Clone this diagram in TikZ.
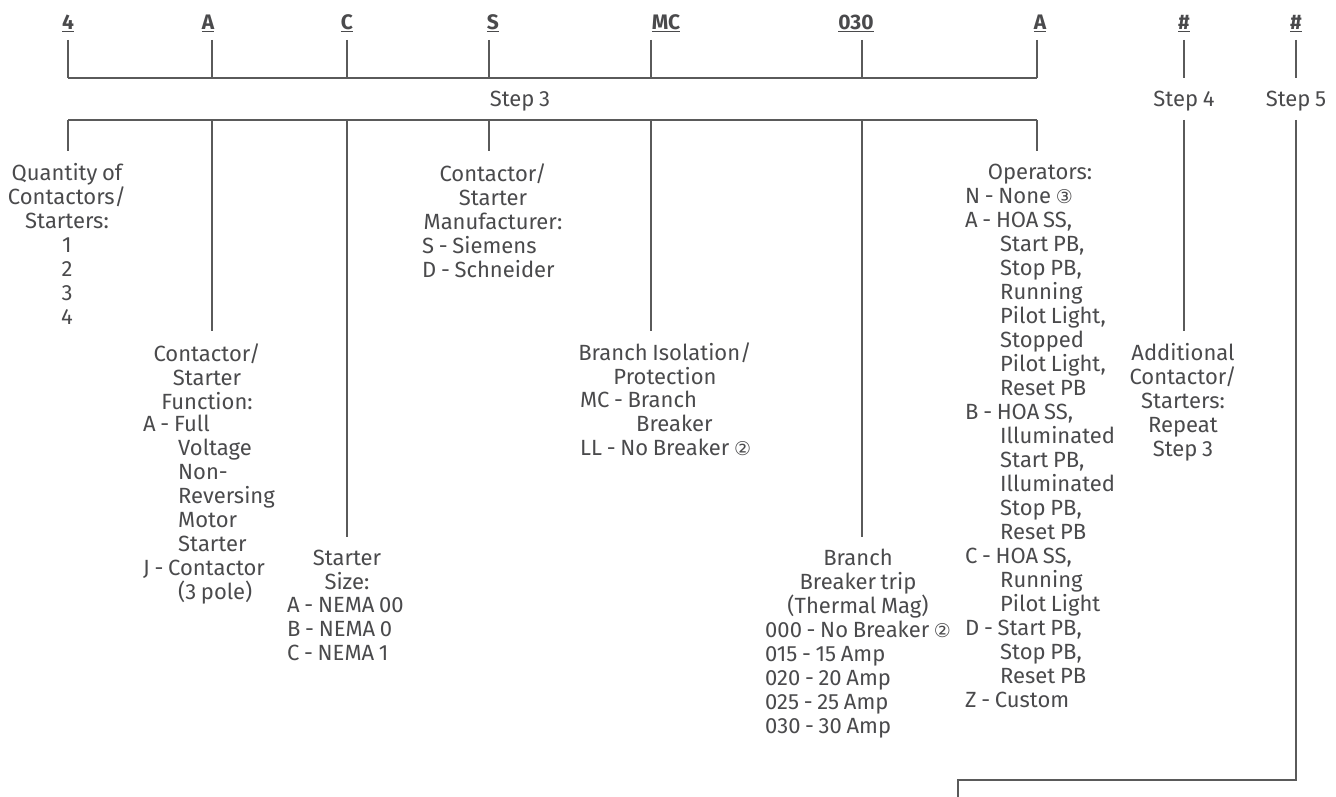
\documentclass[tikz,border=0pt]{standalone}
\usepackage{fontspec}
\setmainfont{Fira Sans}[WordSpace=0.8]
\newfontfamily\symfont{DejaVu Sans}
\newcommand{\cnum}[1]{{\symfont\fontsize{19}{19}\selectfont #1}}
\newcommand{\myind}{\hspace*{35pt}}
\definecolor{txtc}{HTML}{4A4A4C}
\definecolor{linec}{HTML}{5A5A5A}
\tikzset{
  txt/.style={text=txtc, font=\fontsize{22}{24}\selectfont, inner sep=0pt},
  hd/.style={txt, anchor=north, align=center},
  lst/.style={txt, anchor=north west, align=left},
  codelbl/.style={txt, anchor=base, font=\fontsize{21}{24}\selectfont\bfseries},
  steplbl/.style={txt, anchor=base},
  ln/.style={draw=linec, line width=1.3pt}
}
\begin{document}
\begin{tikzpicture}[x=1pt,y=-1pt]
\useasboundingbox (0,0) rectangle (1336,797);
% top code letters
\node[codelbl] (t1) at (68,29.5) {\underline{4}};
\node[codelbl] (t2) at (208,29.5) {\underline{A}};
\node[codelbl] (t3) at (347,29.5) {\underline{C}};
\node[codelbl] (t4) at (493,29.5) {\underline{S}};
\node[codelbl] (t5) at (666,29.5) {\underline{MC}};
\node[codelbl] (t6) at (856,29.5) {\underline{030}};
\node[codelbl] (t7) at (1040,29.5) {\underline{A}};
\node[codelbl] (t8) at (1184,29.5) {\underline{\#}};
\node[codelbl] (t9) at (1296,29.5) {\underline{\#}};
% coordinates
\foreach \n/\x in {1/68,2/212,3/347,4/489,5/651,6/862,7/1037,8/1184,9/1296}{
  \coordinate (u\n) at (\x,40);
  \coordinate (b\n) at (\x,78);
  \coordinate (c\n) at (\x,120);
}
\coordinate (e1) at (68,151);
\coordinate (e2) at (212,331);
\coordinate (e3) at (347,537);
\coordinate (e4) at (489,151);
\coordinate (e5) at (651,331);
\coordinate (e6) at (862,537);
\coordinate (e7) at (1037,151);
\coordinate (e8) at (1184,331);
\coordinate (e9) at (1296,780);
\coordinate (k1) at (958,780);
\coordinate (k2) at (958,797);
% ticks and buses
\foreach \n in {1,...,9}{ \draw[ln] (u\n) -- (b\n); }
\draw[ln] (b1) -- (b7);
\draw[ln] (c1) -- (c7);
\foreach \n in {1,...,8}{ \draw[ln] (c\n) -- (e\n); }
\draw[ln] (c9) -- (e9) -- (k1) -- (k2);
% step labels
\node[steplbl] (s3) at (520,107) {Step 3};
\node[steplbl] (s4) at (1184,107) {Step 4};
\node[steplbl] (s5) at (1296,107) {Step 5};
% descriptions
\node[hd] (qty) at (67,163) {Quantity of\\Contactors/\\Starters:\\1\\2\\3\\4};
\node[hd] (fnH) at (207,344) {Contactor/\\Starter\\Function:};
\node[lst] (fnL) at (143,415) {A - Full\\\myind Voltage\\\myind Non-\\\myind Reversing\\\myind Motor\\\myind Starter\\J - Contactor\\\myind (3 pole)};
\node[hd] (szH) at (347,550) {Starter\\Size:};
\node[lst] (szL) at (287,597) {A - NEMA 00\\B - NEMA 0\\C - NEMA 1};
\node[hd] (mfH) at (493,164) {Contactor/\\Starter\\Manufacturer:};
\node[lst] (mfL) at (422,236) {S - Siemens\\D - Schneider};
\node[hd] (biH) at (665,343) {Branch Isolation/\\Protection};
\node[lst] (biL) at (580,391) {MC - Branch\\\hspace*{56pt}Breaker\\LL - No Breaker \cnum{②}};
\node[hd] (btH) at (858,549) {Branch\\Breaker trip\\(Thermal Mag)};
\node[lst] (btL) at (765,621) {000 - No Breaker \cnum{②}\\015 - 15 Amp\\020 - 20 Amp\\025 - 25 Amp\\030 - 30 Amp};
\node[hd] (opH) at (1040,164) {Operators:};
\node[lst] (opL) at (965,188) {N - None \cnum{③}\\A - HOA SS,\\\myind Start PB,\\\myind Stop PB,\\\myind Running\\\myind Pilot Light,\\\myind Stopped\\\myind Pilot Light,\\\myind Reset PB\\B - HOA SS,\\\myind Illuminated\\\myind Start PB,\\\myind Illuminated\\\myind Stop PB,\\\myind Reset PB\\C - HOA SS,\\\myind Running\\\myind Pilot Light\\D - Start PB,\\\myind Stop PB,\\\myind Reset PB\\Z - Custom};
\node[hd] (add) at (1183,343) {Additional\\Contactor/\\Starters:\\Repeat\\Step 3};
\end{tikzpicture}
\end{document}
